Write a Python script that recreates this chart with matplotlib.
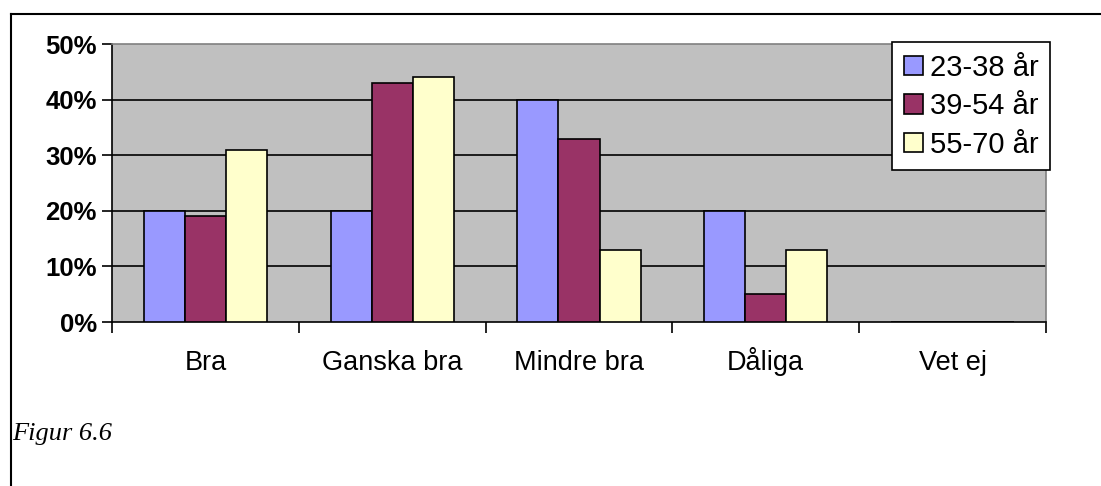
import matplotlib.pyplot as plt
from matplotlib.lines import Line2D
import numpy as np

# Data
categories = ['Bra', 'Ganska bra', 'Mindre bra', 'Dåliga', 'Vet ej']
series_names = ['23-38 år', '39-54 år', '55-70 år']
age_23_38 = [20, 20, 40, 20, 0]
age_39_54 = [19, 43, 33, 5, 0]
age_55_70 = [31, 44, 13, 13, 0]
yticks = [0, 10, 20, 30, 40, 50]
colors = ['#9999FF', '#993366', '#FFFFCC']

fig = plt.figure(figsize=(11.01, 4.86), dpi=100)
ax = fig.add_axes([112 / 1101, 1 - 322 / 486, (1046 - 112) / 1101, (322 - 44) / 486])
ax.set_facecolor('#C0C0C0')

x = np.arange(len(categories))
w = 0.22
for i, vals in enumerate([age_23_38, age_39_54, age_55_70]):
    ax.bar(x + (i - 1) * w, vals, w, color=colors[i], edgecolor='black',
           linewidth=1.2, label=series_names[i], zorder=3)

ax.set_xlim(-0.5, len(categories) - 0.5)
ax.set_ylim(0, 50)
ax.set_yticks(yticks)
ax.set_yticklabels([f'{t}%' for t in yticks], fontweight='bold', fontsize=18.5,
                   family='Liberation Sans')
for t in yticks[1:-1]:
    ax.axhline(t, color='black', linewidth=1.2, zorder=1)

ax.set_xticks(x)
ax.set_xticklabels(categories, fontsize=19.5, family='Liberation Sans',
                   va='baseline')
ax.tick_params(axis='x', which='major', length=0, pad=34.5)
ax.set_xticks(np.arange(-0.5, len(categories)), minor=True)
ax.tick_params(axis='x', which='minor', length=8, width=1.2, direction='out')
ax.tick_params(axis='y', length=7, width=1.2, direction='out', pad=4)

for s in ['top', 'right']:
    ax.spines[s].set_color('#808080')
    ax.spines[s].set_linewidth(1.2)
for s in ['left', 'bottom']:
    ax.spines[s].set_color('black')
    ax.spines[s].set_linewidth(1.2)

leg = fig.legend(loc='upper left', bbox_to_anchor=(892 / 1101, 1 - 42 / 486),
                 bbox_transform=fig.transFigure, fancybox=False, framealpha=1,
                 edgecolor='black', handlelength=0.65, handleheight=0.65,
                 handletextpad=0.25, borderpad=0.4, labelspacing=0.36,
                 borderaxespad=0,
                 prop={'family': 'Liberation Sans', 'size': 21})
leg.get_frame().set_linewidth(1.2)

fig.text(12 / 1101, 1 - 440 / 486, 'Figur 6.6', family='Liberation Serif',
         style='italic', fontsize=19, va='baseline', ha='left')

# outer border (left and top only)
fig.add_artist(Line2D([11 / 1101, 11 / 1101], [0, 1 - 14 / 486], color='black', linewidth=1.5))
fig.add_artist(Line2D([11 / 1101, 1], [1 - 14 / 486, 1 - 14 / 486], color='black', linewidth=1.5))

fig.savefig('out.png', dpi=100)
